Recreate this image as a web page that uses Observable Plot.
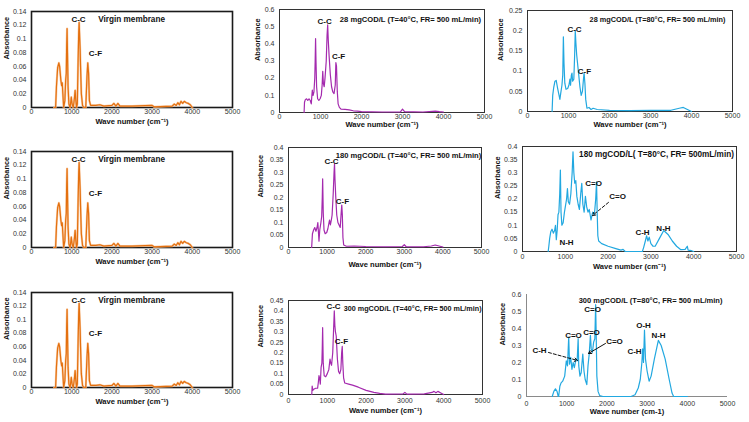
<!DOCTYPE html>
<html><head><meta charset="utf-8">
<script src="https://cdn.jsdelivr.net/npm/d3@7"></script>
<script src="https://cdn.jsdelivr.net/npm/@observablehq/plot@0.6"></script>
<style>
body{margin:0;background:#fff;}
#wrap{position:relative;width:749px;height:422px;overflow:hidden;font-family:"Liberation Sans",Arial,sans-serif;}
.panel{position:absolute;}
</style></head><body><div id="wrap"></div>
<script>
// ---------- data ----------
const xTicks = [0, 1000, 2000, 3000, 4000, 5000];

const virgin = [[560,0],[600,0],[620,0.03],[650,0.058],[680,0.065],[700,0.06],[730,0.04],[750,0.032],[765,0.036],[780,0.02],[800,0],[830,0.01],[850,0.04],[865,0.05],[875,0.09],[885,0.115],[895,0.08],[910,0.03],[930,0.005],[960,0],[990,0.015],[1010,0.005],[1040,0],[1070,0.015],[1085,0.025],[1100,0.012],[1120,0],[1140,0.005],[1160,0.07],[1175,0.11],[1185,0.124],[1200,0.1],[1210,0.085],[1220,0.06],[1240,0.02],[1270,0.003],[1300,0],[1350,0],[1380,0.045],[1400,0.065],[1420,0.05],[1440,0.01],[1470,0.003],[1600,0.003],[1700,0.004],[1800,0.002],[2000,0.003],[2050,0.006],[2100,0.002],[2150,0.006],[2200,0.002],[2500,0.002],[3000,0.003],[3050,0.001],[3500,0.002],[3550,0.005],[3600,0.003],[3640,0.007],[3680,0.004],[3720,0.009],[3760,0.006],[3800,0.009],[3850,0.007],[3900,0.006],[3950,0.004],[4000,0]];

const purple28 = [[600,0],[610,0.06],[630,0.075],[660,0.08],[690,0.07],[720,0.08],[750,0.07],[775,0.05],[790,0.1],[800,0.13],[820,0.1],[840,0.12],[860,0.2],[870,0.3],[880,0.43],[890,0.3],[905,0.15],[930,0.08],[960,0.07],[990,0.08],[1020,0.1],[1040,0.16],[1055,0.24],[1070,0.17],[1090,0.15],[1110,0.2],[1140,0.3],[1160,0.45],[1175,0.51],[1190,0.42],[1210,0.33],[1240,0.22],[1270,0.15],[1300,0.12],[1330,0.11],[1360,0.16],[1375,0.29],[1390,0.27],[1410,0.12],[1430,0.05],[1460,0.03],[1500,0.02],[1600,0.018],[1700,0.015],[1800,0.01],[1900,0.008],[2000,0.005],[2500,0.003],[2950,0.004],[3000,0.02],[3050,0.005],[3500,0.003],[3800,0.008],[3900,0.005],[4000,0.003]];

const blue28 = [[600,0],[615,0.04],[640,0.06],[670,0.075],[700,0.077],[730,0.06],[760,0.045],[790,0.03],[810,0.045],[840,0.065],[860,0.09],[875,0.185],[890,0.12],[910,0.07],[940,0.055],[980,0.057],[1010,0.065],[1035,0.08],[1050,0.065],[1070,0.09],[1085,0.095],[1100,0.075],[1130,0.08],[1150,0.14],[1165,0.2],[1180,0.17],[1200,0.14],[1220,0.12],[1250,0.09],[1280,0.06],[1310,0.04],[1340,0.05],[1365,0.08],[1380,0.095],[1400,0.07],[1420,0.03],[1450,0.008],[1500,0.01],[1550,0.005],[1600,0.008],[1700,0.005],[2000,0.003],[2500,0.002],[3000,0.003],[3500,0.003],[3700,0.008],[3800,0.01],[3900,0.005],[4000,0]];

const purple180 = [[600,0],[620,0.055],[650,0.07],[680,0.08],[710,0.065],[740,0.08],[760,0.1],[780,0.05],[790,0.025],[810,0.07],[840,0.1],[860,0.125],[875,0.2],[885,0.275],[900,0.14],[920,0.07],[950,0.055],[990,0.06],[1020,0.075],[1050,0.1],[1065,0.11],[1085,0.09],[1110,0.11],[1130,0.13],[1160,0.22],[1180,0.3],[1192,0.335],[1205,0.27],[1225,0.2],[1250,0.13],[1280,0.1],[1310,0.09],[1340,0.08],[1365,0.14],[1380,0.17],[1395,0.13],[1410,0.04],[1430,0.01],[1500,0.005],[1700,0.006],[2000,0.004],[2500,0.003],[2950,0.004],[3000,0.011],[3050,0.003],[3500,0.003],[3700,0.006],[3800,0.01],[3900,0.006],[4000,0.002]];

const blue180 = [[600,0],[615,0.02],[635,0.05],[660,0.075],[690,0.085],[720,0.07],[750,0.08],[770,0.1],[790,0.045],[810,0.08],[830,0.14],[850,0.15],[870,0.22],[885,0.31],[900,0.15],[920,0.1],[950,0.11],[980,0.15],[1000,0.17],[1030,0.2],[1050,0.24],[1070,0.19],[1100,0.18],[1130,0.22],[1160,0.3],[1180,0.38],[1200,0.3],[1220,0.26],[1245,0.27],[1270,0.21],[1300,0.18],[1330,0.16],[1360,0.22],[1385,0.26],[1410,0.18],[1440,0.15],[1470,0.21],[1500,0.17],[1530,0.15],[1560,0.16],[1600,0.12],[1640,0.15],[1680,0.14],[1710,0.2],[1730,0.265],[1745,0.15],[1760,0.06],[1780,0.04],[1850,0.03],[2000,0.02],[2200,0.01],[2300,0.005],[2350,0.008],[2400,0],[2800,0],[2830,0.015],[2870,0.04],[2900,0.06],[2930,0.04],[2960,0.055],[3000,0.03],[3050,0.02],[3100,0.02],[3200,0.05],[3300,0.08],[3400,0.065],[3500,0.04],[3600,0.02],[3700,0.007],[3800,0.008],[3850,0.02],[3870,0.005],[3950,0.003],[4000,0]];

const purple300 = [[600,0],[610,0.04],[625,0.02],[650,0.025],[700,0.03],[750,0.03],[770,0.06],[785,0.09],[800,0.08],[820,0.05],[840,0.13],[860,0.15],[870,0.22],[880,0.32],[895,0.15],[920,0.09],[960,0.085],[1000,0.1],[1040,0.12],[1070,0.17],[1090,0.15],[1110,0.14],[1140,0.2],[1160,0.3],[1180,0.4],[1195,0.33],[1210,0.3],[1230,0.28],[1260,0.17],[1290,0.11],[1320,0.1],[1350,0.12],[1370,0.2],[1385,0.23],[1400,0.15],[1420,0.08],[1450,0.055],[1550,0.05],[1650,0.045],[1800,0.035],[2000,0.02],[2200,0.01],[2350,0.005],[2500,0.002],[2950,0.003],[3000,0.01],[3050,0.002],[3500,0.003],[3700,0.01],[3750,0.015],[3800,0.008],[3850,0.015],[3950,0.005],[4000,0]];

const blue300 = [[640,0],[680,0.03],[720,0.045],[760,0.03],[790,0],[800,0],[830,0.06],[860,0.08],[900,0.09],[950,0.12],[990,0.21],[1020,0.18],[1050,0.35],[1070,0.19],[1100,0.23],[1130,0.16],[1160,0.2],[1190,0.17],[1230,0.22],[1260,0.21],[1285,0.34],[1300,0.18],[1330,0.12],[1360,0.14],[1400,0.25],[1430,0.15],[1460,0.1],[1500,0.07],[1530,0.18],[1560,0.25],[1590,0.36],[1610,0.28],[1640,0.26],[1670,0.32],[1700,0.34],[1720,0.54],[1735,0.35],[1750,0.12],[1780,0.03],[1820,0.005],[1900,0],[2600,0],[2700,0.01],[2780,0.05],[2830,0.1],[2870,0.2],[2890,0.28],[2910,0.2],[2935,0.39],[2960,0.22],[3000,0.15],[3050,0.09],[3100,0.12],[3180,0.22],[3280,0.33],[3350,0.3],[3450,0.22],[3550,0.1],[3620,0.02],[3660,0],[4000,0]];

// annotations [x, y, text]
const virginLabels = [[1170,0.129,"C-C"],[1590,0.079,"C-F"]];
const virginTitle = [[2490,0.128,"Virgin membrane"]];
const p28_40Labels = [[1100,0.53,"C-C"],[1440,0.326,"C-F"]];
const p28_40Title = [[3195,0.542,"28 mgCOD/L (T=40°C, FR= 500 mL/min)"]];
const p28_80Labels = [[1146,0.203,"C-C"],[1390,0.099,"C-F"]];
const p28_80Title = [[3171,0.228,"28 mgCOD/L (T=80°C, FR= 500 mL/min)"]];
const p180_40Labels = [[1114,0.345,"C-C"],[1399,0.184,"C-F"]];
const p180_40Title = [[3109,0.368,"180 mgCOD/L (T=40°C, FR= 500 mL/min)"]];
const p180_80Labels = [[1659,0.259,"C=O"],[2220,0.21,"C=O"],[1028,0.034,"N-H"],[2804,0.072,"C-H"],[3294,0.088,"N-H"]];
const p180_80Title = [[3131,0.37,"180 mgCOD/L( T=80°C, FR= 500mL/min)"]];
const p180_80Arrows = [[2009,0.187,1636,0.137,true]];
const p300_40Labels = [[1160,0.421,"C-C"],[1366,0.254,"C-F"]];
const p300_40Title = [[3200,0.412,"300 mgCOD/L (T=40°C, FR= 500 mL/min)"]];
const p300_80Labels = [[1642,0.512,"C=O"],[1169,0.359,"C=O"],[1617,0.376,"C=O"],[2189,0.324,"C=O"],[323,0.27,"C-H"],[2910,0.418,"O-H"],[2687,0.265,"C-H"],[3284,0.359,"N-H"]];
const p300_80Title = [[3085,0.565,"300 mgCOD/L (T=80°C, FR= 500 mL/min)"]];
const p300_80Arrows = [[1965,0.312,1542,0.253,false],[547,0.259,1269,0.212,true]];

const ORANGE = "#E4700F", PURPLE = "#A42AAE", BLUE = "#22A8E0";

// ---------- panels ----------
const panels = [
  {ox:0,oy:0,w:245,h:140,mL:31,mR:13,mT:11,mB:33,data:virgin,color:ORANGE,under:"#F6BE8E",ymax:0.14,yt:[0,0.02,0.04,0.06,0.08,0.1,0.12,0.14],labels:virginLabels,title:virginTitle,titleSize:8.2,frame:"thick",xtDy:16,ytDx:-25,pad:2,xlab:"Wave number (cm⁻¹)"},
  {ox:245,oy:0,w:250,h:140,mL:34,mR:11,mT:9,mB:28,data:purple28,color:PURPLE,ymax:0.6,yt:[0,0.1,0.2,0.3,0.4,0.5,0.6],labels:p28_40Labels,title:p28_40Title,titleSize:7.6,frame:"thin",xtDy:14,ytDx:-22,pad:2,xlab:"Wave number (cm⁻¹)"},
  {ox:495,oy:0,w:254,h:140,mL:32,mR:17,mT:10,mB:29,data:blue28,color:BLUE,ymax:0.25,yt:[0,0.05,0.1,0.15,0.2,0.25],labels:p28_80Labels,title:p28_80Title,titleSize:7.3,frame:"thin",xtDy:15,ytDx:-27,pad:2,xlab:"Wave number (cm⁻¹)"},
  {ox:0,oy:140,w:245,h:140,mL:31,mR:13,mT:11,mB:33,data:virgin,color:ORANGE,under:"#F6BE8E",ymax:0.14,yt:[0,0.02,0.04,0.06,0.08,0.1,0.12,0.14],labels:virginLabels,title:virginTitle,titleSize:8.2,frame:"thick",xtDy:16,ytDx:-25,pad:2,xlab:"Wave number (cm⁻¹)"},
  {ox:245,oy:140,w:250,h:140,mL:43,mR:14,mT:7,mB:33,data:purple180,color:PURPLE,ymax:0.4,yt:[0,0.05,0.1,0.15,0.2,0.25,0.3,0.35,0.4],labels:p180_40Labels,title:p180_40Title,titleSize:7.6,frame:"thin",xtDy:19,ytDx:-28,pad:2,xlab:"Wave number (cm⁻¹)"},
  {ox:495,oy:140,w:254,h:140,mL:27,mR:13,mT:6,mB:29,data:blue180,color:BLUE,ymax:0.4,yt:[0,0.05,0.1,0.15,0.2,0.25,0.3,0.35,0.4],labels:p180_80Labels,title:p180_80Title,titleSize:8.2,frame:"thin",xtDy:17,ytDx:-25,pad:3,arrows:p180_80Arrows,xlab:"Wave number (cm⁻¹)"},
  {ox:0,oy:280,w:245,h:142,mL:31,mR:13,mT:12,mB:35,data:virgin,color:ORANGE,under:"#F6BE8E",ymax:0.14,yt:[0,0.02,0.04,0.06,0.08,0.1,0.12,0.14],labels:virginLabels,title:virginTitle,titleSize:8.2,frame:"thick",xtDy:16,ytDx:-25,pad:2,xlab:"Wave number (cm⁻¹)"},
  {ox:245,oy:280,w:250,h:142,mL:43,mR:13,mT:20,mB:28,data:purple300,color:PURPLE,ymax:0.45,yt:[0,0.05,0.1,0.15,0.2,0.25,0.3,0.35,0.4,0.45],labels:p300_40Labels,title:p300_40Title,titleSize:7.2,frame:"thin",xtDy:18,ytDx:-28,pad:4,xlab:"Wave number (cm⁻¹)"},
  {ox:495,oy:280,w:254,h:142,mL:31,mR:22,mT:14,mB:26,data:blue300,color:BLUE,ymax:0.6,yt:[0,0.1,0.2,0.3,0.4,0.5,0.6],labels:p300_80Labels,title:p300_80Title,titleSize:7.5,frame:"none",xtDy:17,ytDx:-24,pad:5,arrows:p300_80Arrows,xlab:"Wave number (cm-1)"}
];

const fmt = d => String(+d.toFixed(3));
const wrap = document.getElementById("wrap");

for (const p of panels) {
  const marks = [];
  if (p.frame === "thick") marks.push(Plot.frame({stroke:"#1a1a1a", strokeWidth:1.6}));
  else if (p.frame === "thin") marks.push(Plot.frame({stroke:"#333", strokeWidth:1}));
  else {
    marks.push(Plot.ruleX([0], {stroke:"#8a8a8a", strokeWidth:1}));
    marks.push(Plot.ruleY([0], {stroke:"#8a8a8a", strokeWidth:1}));
  }
  if (p.under) marks.push(Plot.line(p.data, {x:d=>d[0], y:d=>d[1], stroke:p.under, strokeWidth:2.2, strokeOpacity:0.8}));
  marks.push(Plot.line(p.data, {x:d=>d[0], y:d=>d[1], stroke:p.color, strokeWidth:1.2}));
  marks.push(Plot.text(p.labels, {x:d=>d[0], y:d=>d[1], text:d=>d[2], fontWeight:"bold", fontSize:8, fill:"#111"}));
  marks.push(Plot.text(p.title, {x:d=>d[0], y:d=>d[1], text:d=>d[2], fontWeight:"bold", fontSize:p.titleSize, fill:"#111"}));
  if (p.arrows) {
    marks.push(Plot.arrow(p.arrows.filter(a=>a[4]), {x1:d=>d[0], y1:d=>d[1], x2:d=>d[2], y2:d=>d[3], stroke:"#111", strokeWidth:1, headLength:5, strokeDasharray:"3,2"}));
    marks.push(Plot.arrow(p.arrows.filter(a=>!a[4]), {x1:d=>d[0], y1:d=>d[1], x2:d=>d[2], y2:d=>d[3], stroke:"#111", strokeWidth:1, headLength:5}));
  }
  marks.push(Plot.axisX({ticks:xTicks, tickFormat:d=>String(d), tickSize:0, tickPadding:p.pad, label:null, fontSize:7, fill:"#333"}));
  marks.push(Plot.axisY({ticks:p.yt, tickFormat:fmt, tickSize:0, tickPadding:5, label:null, fontSize:7, fill:"#333"}));
  marks.push(Plot.text([p.xlab], {frameAnchor:"bottom", dy:p.xtDy, fontWeight:"bold", fontSize:7.6, fill:"#111"}));
  marks.push(Plot.text(["Absorbance"], {frameAnchor:"left", dx:p.ytDx, rotate:-90, fontWeight:"bold", fontSize:7.4, fill:"#111"}));

  const svg = Plot.plot({
    width:p.w, height:p.h,
    marginLeft:p.mL, marginRight:p.mR, marginTop:p.mT, marginBottom:p.mB,
    x:{domain:[0,5000]},
    y:{domain:[0,p.ymax]},
    style:{fontFamily:'"Liberation Sans", Arial, sans-serif', background:"transparent", overflow:"visible"},
    marks
  });
  const div = document.createElement("div");
  div.className = "panel";
  div.style.left = p.ox + "px";
  div.style.top = p.oy + "px";
  div.appendChild(svg);
  wrap.appendChild(div);
}
</script>
</body></html>
